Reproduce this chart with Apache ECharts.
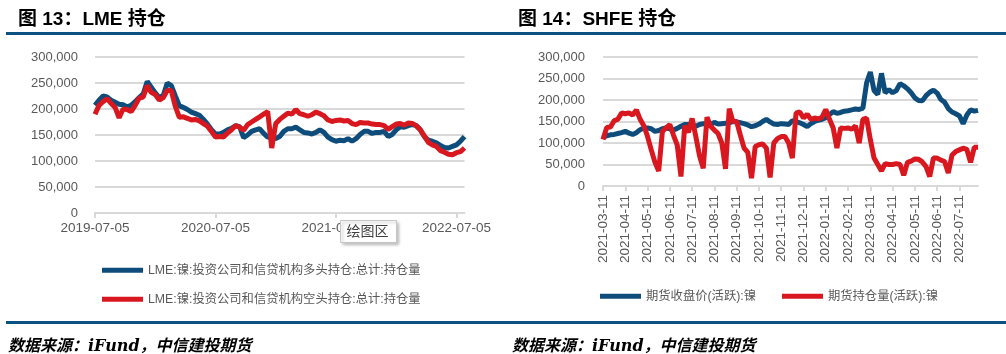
<!DOCTYPE html>
<html>
<head>
<meta charset="utf-8">
<script src="https://cdn.jsdelivr.net/npm/echarts@6/dist/echarts.min.js"></script>
<style>
body{margin:0;width:1006px;height:354px;background:#fff;position:relative;overflow:hidden;}
.tit{position:absolute;top:3px;font:bold 19px "Liberation Sans","Noto Sans CJK SC",sans-serif;color:#000;}
.rule{position:absolute;left:6px;width:1000px;height:3px;background:#0b5283;}
.src{position:absolute;top:332px;font:italic bold 16px "DejaVu Serif","Noto Sans CJK SC",serif;color:#000;}
.box{position:absolute;top:0;height:354px;}
</style>
</head>
<body>
<div id="c1" class="box" style="left:0;width:494px"></div>
<div id="c2" class="box" style="left:500px;width:506px"></div>
<div class="tit" style="left:18px">图 13：LME 持仓</div>
<div class="tit" style="left:518px">图 14：SHFE 持仓</div>
<div class="rule" style="top:32px"></div>
<div class="rule" style="top:321px"></div>
<div class="src" style="left:8px">数据来源：iFund，中信建投期货</div>
<div class="src" style="left:512px">数据来源：iFund，中信建投期货</div>
<script>
// LME 投资公司和信贷机构持仓, 每年30个点, 单位: 千手
var lmeYears = ['2019-07-05', '2020-07-05', '2021-07-05', '2022-07-05'];
var lmeStep = 30;
var lmeLong = [207,217,225,223,217,213,209,208,204,207,214,222,229,253,242,231,222,226,250,245,
    225,206,203,199,194,191,188,180,171,160,152,152,155,160,163,168,166,145,150,157,
    160,162,153,146,146,143,147,157,162,162,165,160,155,154,152,155,160,155,146,141,
    138,140,139,143,138,143,151,157,157,153,155,155,157,147,151,160,166,165,168,170,
    168,160,147,140,138,135,130,126,125,128,131,138,147];
var lmeShort = [190,207,214,220,211,203,183,200,199,195,207,221,223,245,232,228,217,222,236,235,
    205,184,185,182,179,180,177,172,167,157,146,147,146,154,160,168,165,159,170,175,
    180,185,190,195,125,172,180,186,192,190,199,191,189,186,189,194,191,187,179,176,
    178,179,177,178,172,170,174,173,173,171,170,170,168,161,166,171,172,169,173,172,
    168,160,148,136,131,128,120,117,113,112,116,118,125];

// SHFE 镍 活跃合约, 每月6个点
var shfeMonths = ['2021-03-11','2021-04-11','2021-05-11','2021-06-11','2021-07-11','2021-08-11',
    '2021-09-11','2021-10-11','2021-11-11','2021-12-11','2022-01-11','2022-02-11','2022-03-11',
    '2022-04-11','2022-05-11','2022-06-11','2022-07-11'];
var shfeStep = 6;
var shfePrice = [112,117,119,120,122,124,127,123,120,124,131,135,135,133,127,129,133,135,133,130,
    134,139,143,143,142,139,143,145,145,143,148,144,145,146,147,150,149,147,145,142,
    138,140,144,150,155,149,144,143,145,144,143,152,150,147,143,138,145,150,153,155,
    159,166,173,169,171,174,175,177,179,178,181,240,265,222,213,262,217,224,217,222,
    238,233,226,217,205,199,198,210,218,223,216,201,195,180,172,168,163,145,165,177,
    174,176];
var shfeOi = [108,136,137,152,155,170,168,170,165,177,155,140,115,84,55,35,127,135,143,118,
    95,22,140,125,157,115,70,41,160,139,130,122,100,40,180,150,150,118,88,78,
    18,92,96,98,88,20,100,110,115,115,100,65,170,172,158,167,155,158,156,160,
    178,155,135,88,135,134,135,132,140,100,155,158,108,65,50,35,52,50,50,52,
    50,25,55,58,63,62,56,45,22,65,65,60,57,30,72,80,84,88,85,55,
    90,90];

var BLUE = '#0e4d7b', RED = '#d8171f', GRID = '#d9d9d9', TXT = '#595959';
var FONT = '"Liberation Sans","Noto Sans CJK SC",sans-serif';

function cats(labels, step, n) {
    var arr = [];
    for (var i = 0; i < n; i++) {
        arr.push(i % step === 0 ? labels[i / step] : 'p' + i);
    }
    return arr;
}
function toVal(arr) {
    return arr.map(function (v) { return v * 1000; });
}
function yAxis(margin) {
    return {
        type: 'value', min: 0, max: 300000, interval: 50000,
        axisLine: {show: false}, axisTick: {show: false},
        axisLabel: {color: TXT, fontSize: 13, fontFamily: FONT, margin: margin,
            formatter: function (v) { return v.toLocaleString('en-US'); }},
        splitLine: {lineStyle: {color: GRID, width: 2}}
    };
}
function line(name, data, color) {
    return {name: name, type: 'line', data: toVal(data), showSymbol: false, symbol: 'none',
        lineStyle: {color: color, width: 5}, itemStyle: {color: color}, animation: false};
}
var legendText = {color: TXT, fontSize: 12.3, fontFamily: FONT};

var c1 = echarts.init(document.getElementById('c1'));
var n1 = ['LME:镍:投资公司和信贷机构多头持仓:总计:持仓量', 'LME:镍:投资公司和信贷机构空头持仓:总计:持仓量'];
c1.setOption({
    animation: false,
    grid: {left: 95, right: 23, top: 57, bottom: 141},
    legend: [
        {data: [n1[0]], left: 97, top: 259, icon: 'rect', itemWidth: 41, itemHeight: 5, textStyle: legendText},
        {data: [n1[1]], left: 97, top: 288, icon: 'rect', itemWidth: 41, itemHeight: 5, textStyle: legendText}
    ],
    xAxis: {
        type: 'category', boundaryGap: false, data: cats(lmeYears, lmeStep, lmeLong.length),
        axisLine: {lineStyle: {color: GRID, width: 2}},
        axisTick: {interval: lmeStep - 1, length: 5, lineStyle: {color: GRID, width: 2}},
        axisLabel: {interval: lmeStep - 1, color: TXT, fontSize: 13.5, fontFamily: FONT, margin: 9}
    },
    yAxis: yAxis(17),
    series: [line(n1[0], lmeLong, BLUE), line(n1[1], lmeShort, RED)],
    graphic: [{
        type: 'group', left: 340, top: 220, z: 100, children: [
            {type: 'rect', z: 100, shape: {x: 0, y: 0, width: 56, height: 22},
                style: {fill: '#fff', stroke: '#c6c6c6', lineWidth: 1,
                    shadowBlur: 3, shadowOffsetX: 2, shadowOffsetY: 2, shadowColor: 'rgba(0,0,0,0.25)'}},
            {type: 'text', z: 101, x: 6, y: 3, style: {text: '绘图区', fill: '#404040', font: '14px "Noto Sans CJK SC"'}}
        ]
    }]
});

var c2 = echarts.init(document.getElementById('c2'));
var n2 = ['期货收盘价(活跃):镍', '期货持仓量(活跃):镍'];
c2.setOption({
    animation: false,
    grid: {left: 103, right: 28, top: 57, bottom: 168},
    legend: {data: n2, left: 95, top: 285, icon: 'rect', itemWidth: 41, itemHeight: 5, itemGap: 26,
        textStyle: legendText},
    xAxis: {
        type: 'category', boundaryGap: false, data: cats(shfeMonths, shfeStep, shfePrice.length),
        axisLine: {lineStyle: {color: GRID, width: 2}},
        axisTick: {interval: shfeStep - 1, length: 5, lineStyle: {color: GRID, width: 2}},
        axisLabel: {interval: shfeStep - 1, rotate: 90, color: TXT, fontSize: 13.5, fontFamily: FONT, margin: 9}
    },
    yAxis: yAxis(18),
    series: [line(n2[0], shfePrice, BLUE), line(n2[1], shfeOi, RED)]
});
</script>
</body>
</html>
